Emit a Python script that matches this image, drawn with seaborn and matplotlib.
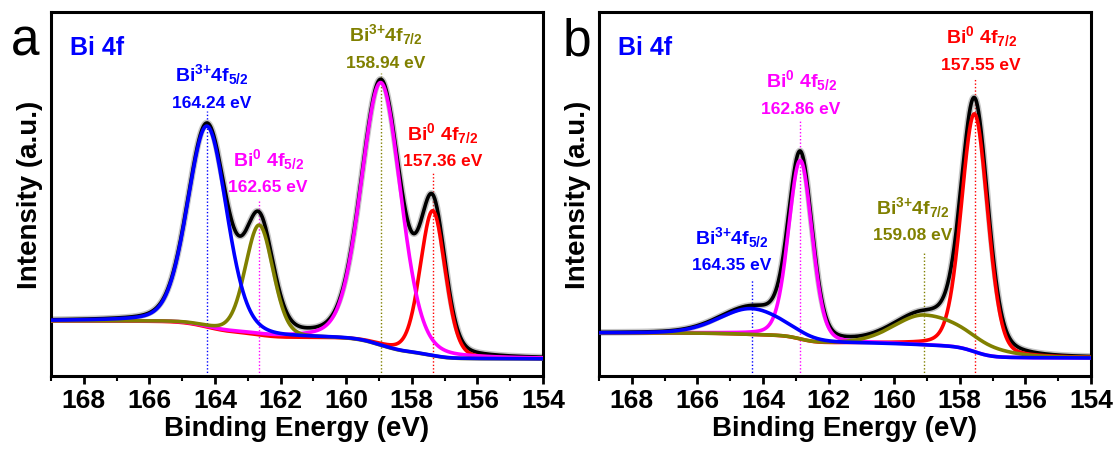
import numpy as np
import matplotlib
matplotlib.use("Agg")
import matplotlib.pyplot as plt
import seaborn as sns

# ---------------- data ----------------
energy_window = (154.0, 169.0)          # binding energy range (eV)
major_ticks = [168, 166, 164, 162, 160, 158, 156, 154]

# Sample a: fitted Bi 4f components (height above background, FWHM on the
# high-BE / low-BE side of each peak)
a_centers = [164.24, 162.65, 158.94, 157.36]
a_heights = [201, 110, 263, 145]
a_fwhm_hi = [1.40, 1.00, 1.42, 0.90]
a_fwhm_lo = [1.40, 1.00, 1.42, 0.90]
a_line_colors = ["#0000ff", "#808000", "#ff00ff", "#ff0000"]
a_label_colors = ["#0000ff", "#ff00ff", "#808000", "#ff0000"]
a_labels = [r"Bi$^{\mathbf{3{+}}}$4f$_{\mathbf{5/2}}$",
            r"Bi$^{\mathbf{0}}$ 4f$_{\mathbf{5/2}}$",
            r"Bi$^{\mathbf{3{+}}}$4f$_{\mathbf{7/2}}$",
            r"Bi$^{\mathbf{0}}$ 4f$_{\mathbf{7/2}}$"]
a_background = [55, 17]                  # level at 169 eV, level at 154 eV

# Sample b
b_centers = [164.35, 162.86, 159.08, 157.55]
b_heights = [26, 179, 30, 238]
b_fwhm_hi = [2.30, 0.85, 2.20, 0.95]
b_fwhm_lo = [2.30, 0.85, 3.20, 0.95]
b_line_colors = ["#0000ff", "#ff00ff", "#808000", "#ff0000"]
b_label_colors = ["#0000ff", "#ff00ff", "#808000", "#ff0000"]
b_labels = [r"Bi$^{\mathbf{3{+}}}$4f$_{\mathbf{5/2}}$",
            r"Bi$^{\mathbf{0}}$ 4f$_{\mathbf{5/2}}$",
            r"Bi$^{\mathbf{3{+}}}$4f$_{\mathbf{7/2}}$",
            r"Bi$^{\mathbf{0}}$ 4f$_{\mathbf{7/2}}$"]
b_background = [43, 18]

# label placement: (x in eV, y of the energy line, top of the dotted marker)
a_label_x = [164.09, 162.38, 158.79, 157.05]
a_label_y = [274, 189, 314, 215]
a_marker_top = [265, 175, 303, 204]
b_label_x = [164.95, 162.84, 159.43, 157.35]
b_label_y = [111, 268, 141, 312]
b_marker_top = [97, 257, 125, 297]

# draw order of the fitted components (first = bottom)
a_order = [3, 2, 1, 0]
b_order = [3, 1, 2, 0]

LORENTZ_FRACTION = 0.2


def component(e, center, height, w_hi, w_lo):
    w = np.where(e >= center, w_hi, w_lo)
    x = (e - center) / w
    gauss = np.exp(-4.0 * np.log(2.0) * x ** 2)
    lorentz = 1.0 / (1.0 + 4.0 * x ** 2)
    return height * ((1 - LORENTZ_FRACTION) * gauss + LORENTZ_FRACTION * lorentz)


def shirley(e, peak_sum, level_high, level_low):
    steps = np.concatenate([[0.0], np.cumsum(0.5 * (peak_sum[1:] + peak_sum[:-1]) * np.diff(e))])
    return level_low + (level_high - level_low) * steps / steps[-1]


# ---------------- style ----------------
sns.set_theme(style="ticks")
plt.rcParams["font.family"] = ["Liberation Sans", "DejaVu Sans"]
plt.rcParams["mathtext.fontset"] = "custom"
plt.rcParams["mathtext.rm"] = "Liberation Sans"
plt.rcParams["mathtext.bf"] = "Liberation Sans:bold"
plt.rcParams["mathtext.it"] = "Liberation Sans:italic"
plt.rcParams["text.color"] = "black"
plt.rcParams["axes.labelcolor"] = "black"
plt.rcParams["xtick.color"] = "black"
plt.rcParams["axes.edgecolor"] = "black"

fig = plt.figure(figsize=(11.18, 4.52), dpi=100)
ax_a = fig.add_axes([51 / 1118, 75 / 452, 492 / 1118, 364 / 452])
ax_b = fig.add_axes([599 / 1118, 75 / 452, 492 / 1118, 364 / 452])

e = np.linspace(energy_window[0], energy_window[1], 1501)


def draw_panel(ax, centers, heights, w_hi, w_lo, line_colors, label_colors,
               labels, background, label_x, label_y, marker_top, order):
    comps = [component(e, c, h, wh, wl) for c, h, wh, wl in zip(centers, heights, w_hi, w_lo)]
    total = np.sum(comps, axis=0)
    bg = shirley(e, total, background[0], background[1])
    envelope = bg + total

    # markers at the fitted peak positions
    ax.vlines(centers, 0, marker_top, colors=label_colors, linestyles=(0, (1, 1.5)),
              linewidth=1.0, zorder=1)

    sns.lineplot(x=e, y=envelope, ax=ax, color="#808080", linewidth=4.8, alpha=0.45, zorder=2)
    sns.lineplot(x=e, y=envelope, ax=ax, color="black", linewidth=2.6, zorder=3)
    for k, i in enumerate(order):
        sns.lineplot(x=e, y=bg + comps[i], ax=ax, color=line_colors[i], linewidth=2.6,
                     zorder=4 + k)

    for c_x, c_y, lab, col, ctr in zip(label_x, label_y, labels, label_colors, centers):
        ax.text(c_x, c_y + 28, lab, color=col, fontsize=14, fontweight="bold",
                ha="center", va="center")
        ax.text(c_x, c_y, f"{ctr:.2f} eV", color=col, fontsize=12.5, fontweight="bold",
                ha="center", va="center")

    ax.text(0.038, 0.905, "Bi 4f", transform=ax.transAxes, color="#0000ff",
            fontsize=18, fontweight="bold", ha="left", va="center")

    ax.set_xlim(energy_window[1], energy_window[0])
    ax.set_ylim(0, 364)
    ax.set_xticks(major_ticks)
    ax.set_xticks(np.arange(169, 153, -1), minor=True)
    ax.set_xticklabels([str(t) for t in major_ticks], fontsize=19, fontweight="bold")
    ax.set_yticks([])
    ax.tick_params(axis="x", which="major", direction="out", length=6, width=2, pad=3,
                   colors="black")
    ax.tick_params(axis="x", which="minor", direction="out", length=3.5, width=1.5,
                   colors="black")
    for sp in ax.spines.values():
        sp.set_linewidth(2.2)
        sp.set_color("black")
    ax.set_xlabel("Binding Energy (eV)", fontsize=20, fontweight="bold", labelpad=2,
                  color="black")
    ax.set_ylabel("Intensity (a.u.)", fontsize=20, fontweight="bold", labelpad=6,
                  color="black")


draw_panel(ax_a, a_centers, a_heights, a_fwhm_hi, a_fwhm_lo, a_line_colors, a_label_colors,
           a_labels, a_background, a_label_x, a_label_y, a_marker_top, a_order)
draw_panel(ax_b, b_centers, b_heights, b_fwhm_hi, b_fwhm_lo, b_line_colors, b_label_colors,
           b_labels, b_background, b_label_x, b_label_y, b_marker_top, b_order)

fig.text(25 / 1118, 1 - 55 / 452, "a", fontsize=37, ha="center", va="baseline")
fig.text(577 / 1118, 1 - 55 / 452, "b", fontsize=37, ha="center", va="baseline")

fig.savefig("out.png", dpi=100)
